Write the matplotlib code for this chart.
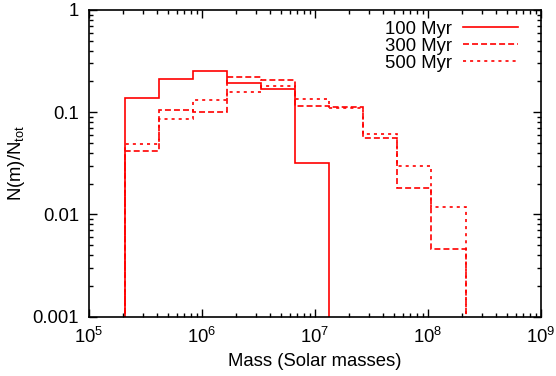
import matplotlib
matplotlib.use("Agg")
import matplotlib.pyplot as plt
import numpy as np
from matplotlib.ticker import LogLocator, FixedLocator, NullFormatter

plt.rcParams['font.family'] = ['Liberation Sans', 'DejaVu Sans']
plt.rcParams['mathtext.fontset'] = 'custom'
plt.rcParams['mathtext.rm'] = 'Liberation Sans'
plt.rcParams['mathtext.it'] = 'Liberation Sans'
plt.rcParams['lines.scale_dashes'] = False

# bin edges (solar masses)
edges = [2.1e5, 4.2e5, 8.4e5, 1.68e6, 3.36e6, 6.72e6, 1.34e7, 2.69e7, 5.38e7, 1.075e8, 2.15e8]
labels = ["100 Myr", "300 Myr", "500 Myr"]
myr100 = [0.139, 0.211, 0.251, 0.194, 0.168, 0.032, 0, 0, 0, 0]
myr300 = [0.0417, 0.106, 0.101, 0.219, 0.207, 0.116, 0.112, 0.0563, 0.0182, 0.00455]
myr500 = [0.0485, 0.085, 0.133, 0.159, 0.182, 0.135, 0.111, 0.0608, 0.030, 0.0119]

fs = 13.3

fig = plt.figure(figsize=(5.56, 3.76), dpi=100)
ax = fig.add_axes([88.7/556, 1-316.7/376, (541-88.7)/556, (316.7-10)/376])

styles = ['-', (0, (4.3, 2.2)), (0, (2.2, 2.9))]
series = [myr100, myr300, myr500]
for vals, lab, st in zip(series, labels, styles):
    v = np.array(vals, dtype=float)
    v[v == 0] = 1e-6
    ax.stairs(v, edges, baseline=1e-6, fill=False, color='#ff0000', lw=1.2, label=lab, linestyle=st)

ax.set_xscale('log')
ax.set_yscale('log')
ax.set_xlim(1e5, 1e9)
ax.set_ylim(1e-3, 1)

ax.yaxis.set_major_locator(FixedLocator([1e-3, 1e-2, 1e-1, 1]))
ax.set_yticklabels(['0.001', '0.01', '0.1', '1'])
ax.xaxis.set_major_locator(FixedLocator([1e5, 1e6, 1e7, 1e8, 1e9]))
ax.set_xticklabels([r'$10^5$', r'$10^6$', r'$10^7$', r'$10^8$', r'$10^9$'])
ax.xaxis.set_minor_locator(LogLocator(base=10, subs=np.arange(2, 10), numticks=20))
ax.yaxis.set_minor_locator(LogLocator(base=10, subs=np.arange(2, 10), numticks=20))
ax.xaxis.set_minor_formatter(NullFormatter())
ax.yaxis.set_minor_formatter(NullFormatter())

ax.tick_params(which='both', direction='in', top=True, right=True, labelsize=fs, colors='black')
ax.tick_params(which='major', length=6, width=1)
ax.tick_params(which='minor', length=3, width=1)
ax.tick_params(axis='x', pad=7)
ax.tick_params(axis='y', pad=7)
for s in ax.spines.values():
    s.set_linewidth(1.2)

ax.set_xlabel('Mass (Solar masses)', fontsize=fs, labelpad=5)
ax.set_ylabel(r'N(m)/N$_{\rm tot}$', fontsize=fs, labelpad=4)

leg = ax.legend(loc='upper right', frameon=False, markerfirst=False, fontsize=fs,
                handlelength=2.95, handletextpad=0.6, labelspacing=0.0,
                bbox_to_anchor=(0.949, 0.965), borderaxespad=0, borderpad=0)

fig.savefig('out.png', dpi=100)
